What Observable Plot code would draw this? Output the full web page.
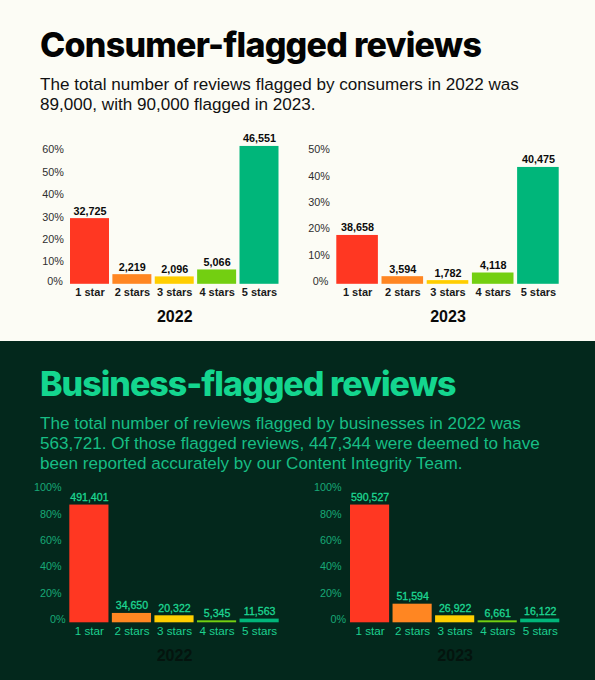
<!DOCTYPE html>
<html><head><meta charset="utf-8">
<script src="https://cdn.jsdelivr.net/npm/d3@7"></script>
<script src="https://cdn.jsdelivr.net/npm/@observablehq/plot@0.6"></script>
<style>
html,body{margin:0;padding:0;background:#fcfcf5;}
#page{position:relative;width:595px;height:680px;overflow:hidden;font-family:"Liberation Sans",sans-serif;}
.band{position:absolute;left:0;width:595px;}
.title{position:absolute;left:40px;font-family:Inter,sans-serif;font-weight:800;font-size:34px;letter-spacing:-0.85px;line-height:44px;white-space:nowrap;}
.sub{position:absolute;left:40px;font-size:17.1px;line-height:20.4px;white-space:nowrap;}
svg{position:absolute;overflow:visible;}
</style></head><body>
<div id="page">
  <div class="band" style="top:0;height:341px;background:#fcfcf5"></div>
  <div class="band" style="top:341px;height:339px;background:#03281c"></div>
  <div class="title" style="top:23px;color:#030303;letter-spacing:-0.75px">Consumer-flagged reviews</div>
  <div class="sub" style="top:75px;color:#111">The total number of reviews flagged by consumers in 2022 was<br>89,000, with 90,000 flagged in 2023.</div>
  <div class="title" style="top:362px;color:#14d68f;letter-spacing:-1px">Business-flagged reviews</div>
  <div class="sub" style="top:413.5px;color:#17bd84">The total number of reviews flagged by businesses in 2022 was<br>563,721. Of those flagged reviews, 447,344 were deemed to have<br>been reported accurately by our Content Integrity Team.</div>
</div>
<script>
const stars = ["1 star","2 stars","3 stars","4 stars","5 stars"];
const barColors = ["#ff3722","#ff8622","#ffce00","#73cf11","#00b67a"];

const consumer2022Pct = [29.3,4.3,3.3,6.4,61.5];
const consumer2022Counts = ["32,725","2,219","2,096","5,066","46,551"];
const consumer2023Pct = [18.6,2.9,1.4,4.3,44.5];
const consumer2023Counts = ["38,658","3,594","1,782","4,118","40,475"];
const business2022Pct = [89.2,7.1,5.3,1.5,2.8];
const business2022Counts = ["491,401","34,650","20,322","5,345","11,563"];
const business2023Pct = [89.2,14.1,5.3,1.5,2.8];
const business2023Counts = ["590,527","51,594","26,922","6,661","16,122"];

const ticks60 = [10,20,30,40,50,60];
const ticks50 = [10,20,30,40,50];
const ticks100 = [20,40,60,80,100];

const light = {count:"#0b0b0b", countWeight:"bold", countSize:10.8, countStroke:"none", tick:"#2e2e2e", xTick:"#1a1a1a", xWeight:"bold", xSize:11, xStroke:"none", year:"#0a0a0a"};
const dark = {count:"#1dd692", countWeight:"normal", countSize:10.6, countStroke:"#1dd692", tick:"#18a877", xTick:"#1dd08f", xWeight:"normal", xSize:11.7, xStroke:"#1dd08f", year:"#04140e"};

const panels = [
  {year:"2022", pct:consumer2022Pct, counts:consumer2022Counts, ticks:ticks60, max:60, top:130, left:0, x0:70, x1:278.5, yTop:149.3, yBase:283.8, tickDy:0, zeroDy:-3, zeroDx:-1, pad:6.7, th:light},
  {year:"2023", pct:consumer2023Pct, counts:consumer2023Counts, ticks:ticks50, max:50, top:130, left:295, x0:336.3, x1:558.7, yTop:152.5, yBase:283.8, tickDy:-3, zeroDy:-3, zeroDx:-1.5, pad:7, th:light},
  {year:"2022", pct:business2022Pct, counts:business2022Counts, ticks:ticks100, max:100, top:470, left:0, x0:69.3, x1:278.7, yTop:490.3, yBase:622.3, tickDy:-3, zeroDy:-3, zeroDx:4, pad:8.3, th:dark},
  {year:"2023", pct:business2023Pct, counts:business2023Counts, ticks:ticks100, max:100, top:470, left:295, x0:350, x1:559.3, yTop:490.3, yBase:622.3, tickDy:-3, zeroDy:-3, zeroDx:4.7, pad:9, th:dark}
];

const page = document.getElementById("page");
for (const p of panels) {
  const rows = stars.map((s,i)=>({star:s, pct:p.pct[i], count:p.counts[i], color:barColors[i]}));
  const w = 300, h = 210;
  const svg = Plot.plot({
    width:w, height:h,
    marginLeft:p.x0-p.left, marginRight:w-(p.x1-p.left),
    marginTop:p.yTop-p.top, marginBottom:h-(p.yBase-p.top),
    style:{background:"transparent", fontFamily:'"Liberation Sans",sans-serif'},
    x:{type:"band", domain:stars, paddingInner:0.08, paddingOuter:0, round:false, label:null},
    y:{domain:[0,p.max], label:null},
    color:{type:"identity"},
    marks:[
      Plot.barY(rows,{x:"star", y:"pct", fill:"color"}),
      Plot.text(rows,{x:"star", y:"pct", text:"count", dy:-7.5, fill:p.th.count, stroke:p.th.countStroke, strokeWidth:0.3, fontSize:p.th.countSize, fontWeight:p.th.countWeight, lineAnchor:"middle"}),
      Plot.axisX({anchor:"bottom", tickSize:0, tickPadding:3.5, fontSize:p.th.xSize, fontWeight:p.th.xWeight, fill:p.th.xTick, stroke:p.th.xStroke, strokeWidth:0.3, label:null}),
      Plot.axisY({anchor:"left", ticks:p.ticks, tickFormat:d=>d+"%", tickSize:0, tickPadding:p.pad, dy:p.tickDy, fontSize:10.8, fill:p.th.tick, label:null}),
      Plot.axisY({anchor:"left", ticks:[0], tickFormat:d=>d+"%", tickSize:0, tickPadding:p.pad, dy:p.zeroDy, dx:p.zeroDx, fontSize:10.8, fill:p.th.tick, label:null}),
      Plot.text([p.year],{frameAnchor:"bottom", dy:33, text:d=>d, fill:p.th.year, fontSize:16, fontWeight:"bold", lineAnchor:"middle"})
    ]
  });
  svg.style.left = p.left+"px";
  svg.style.top = p.top+"px";
  page.appendChild(svg);
}
</script>
</body></html>
